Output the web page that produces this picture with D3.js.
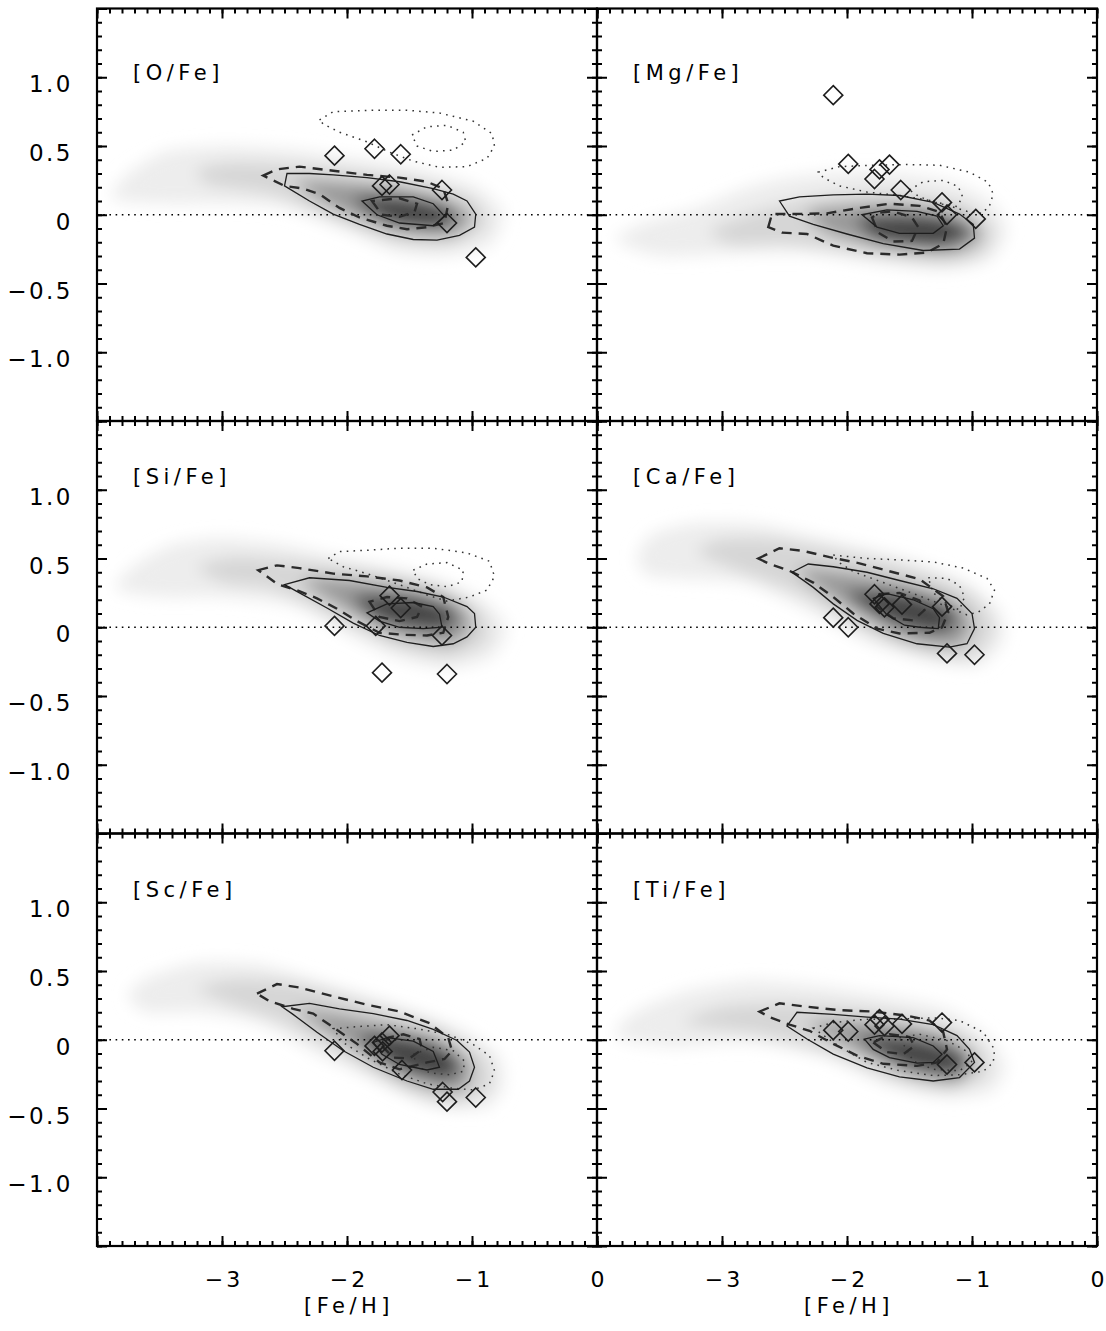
<!DOCTYPE html>
<html>
<head>
<meta charset="utf-8">
<script src="https://cdn.jsdelivr.net/npm/d3@7"></script>
<style>
  body { margin: 0; background: #fff; }
  text { font-family: "DejaVu Sans", sans-serif; fill: #000; }
</style>
</head>
<body>
<div id="chart"></div>
<script>
// axis values
let xTicks = [-3, -2, -1, 0];
let yTicks = [-1.0, -0.5, 0, 0.5, 1.0];
let yTickText = ['\u22121.0', '\u22120.5', '0', '0.5', '1.0'];
let xTickText = ['\u22123', '\u22122', '\u22121', '0'];
let panelNames = ['[O/Fe]', '[Mg/Fe]', '[Si/Fe]', '[Ca/Fe]', '[Sc/Fe]', '[Ti/Fe]'];

// ---- [O/Fe] ----
let oStars = [[-2.10, 0.43], [-1.78, 0.48], [-1.57, 0.44], [-1.72, 0.21], [-1.66, 0.22], [-1.24, 0.18], [-1.20, -0.06], [-0.97, -0.31]];
let oSolid = [
  [[-2.48, 0.30], [-2.50, 0.21], [-2.30, 0.10], [-2.11, 0.005], [-1.90, -0.07], [-1.68, -0.14], [-1.47, -0.18], [-1.28, -0.185], [-1.10, -0.15], [-0.98, -0.09], [-0.97, 0.005], [-1.04, 0.10], [-1.15, 0.15], [-1.31, 0.19], [-1.58, 0.24], [-1.84, 0.27], [-2.11, 0.29], [-2.30, 0.30]],
  [[-1.88, 0.10], [-1.76, 0.0], [-1.58, -0.06], [-1.31, -0.08], [-1.22, -0.01], [-1.31, 0.08], [-1.47, 0.13], [-1.74, 0.13]]
];
let oDashed = [
  [[-2.67, 0.285], [-2.56, 0.33], [-2.38, 0.35], [-2.11, 0.32], [-1.84, 0.29], [-1.58, 0.27], [-1.36, 0.24], [-1.23, 0.19], [-1.19, 0.08], [-1.22, -0.06], [-1.36, -0.09], [-1.52, -0.105], [-1.68, -0.08], [-1.90, -0.02], [-2.06, 0.05], [-2.22, 0.15], [-2.35, 0.19], [-2.50, 0.21]],
  [[-1.80, 0.10], [-1.72, 0.0], [-1.58, -0.015], [-1.46, 0.02], [-1.44, 0.08], [-1.58, 0.12]]
];
let oDotted = [
  [[-2.22, 0.69], [-2.11, 0.75], [-1.79, 0.76], [-1.52, 0.76], [-1.26, 0.74], [-0.99, 0.68], [-0.84, 0.59], [-0.82, 0.50], [-0.88, 0.41], [-1.04, 0.35], [-1.26, 0.345], [-1.47, 0.39], [-1.66, 0.455], [-1.84, 0.53], [-2.06, 0.60], [-2.19, 0.66]],
  [[-1.48, 0.58], [-1.36, 0.64], [-1.20, 0.65], [-1.07, 0.60], [-1.05, 0.53], [-1.15, 0.47], [-1.31, 0.46], [-1.44, 0.50]]
];
let oDensity = [
  [[-3.88, 0.12], [-3.75, 0.30], [-3.45, 0.46], [-3.0, 0.50], [-2.5, 0.48], [-2.0, 0.42], [-1.5, 0.35], [-1.0, 0.22], [-0.75, 0.02], [-0.85, -0.22], [-1.2, -0.30], [-1.6, -0.27], [-2.0, -0.12], [-2.5, 0.05], [-3.0, 0.08], [-3.5, 0.08]],
  [[-3.2, 0.33], [-2.9, 0.38], [-2.4, 0.36], [-1.9, 0.31], [-1.4, 0.24], [-1.0, 0.12], [-0.88, -0.08], [-1.2, -0.22], [-1.6, -0.2], [-2.1, -0.03], [-2.6, 0.15], [-3.1, 0.22]],
  [[-2.4, 0.24], [-1.8, 0.22], [-1.3, 0.14], [-1.0, 0.0], [-1.15, -0.15], [-1.6, -0.12], [-2.1, 0.05]],
  [[-1.95, 0.12], [-1.5, 0.12], [-1.15, 0.03], [-1.25, -0.09], [-1.65, -0.06]]
];

// ---- [Mg/Fe] ----
let mgStars = [[-2.11, 0.87], [-1.99, 0.37], [-1.78, 0.26], [-1.74, 0.33], [-1.66, 0.365], [-1.57, 0.18], [-1.24, 0.09], [-1.20, 0.0], [-0.97, -0.03]];
let mgSolid = [
  [[-2.54, 0.10], [-2.46, -0.01], [-2.27, -0.07], [-2.00, -0.14], [-1.71, -0.21], [-1.39, -0.26], [-1.10, -0.25], [-0.98, -0.17], [-0.99, -0.07], [-1.10, 0.005], [-1.31, 0.09], [-1.58, 0.14], [-1.84, 0.15], [-2.11, 0.145], [-2.38, 0.13]],
  [[-1.88, 0.0], [-1.76, -0.09], [-1.58, -0.135], [-1.31, -0.135], [-1.23, -0.08], [-1.28, -0.01], [-1.44, 0.025], [-1.68, 0.035]]
];
let mgDashed = [
  [[-2.63, -0.09], [-2.60, 0.005], [-2.43, 0.005], [-2.16, 0.01], [-1.90, 0.05], [-1.66, 0.08], [-1.42, 0.065], [-1.26, 0.02], [-1.20, -0.09], [-1.23, -0.21], [-1.36, -0.275], [-1.58, -0.29], [-1.84, -0.28], [-2.11, -0.225], [-2.32, -0.14], [-2.52, -0.13]],
  [[-1.80, -0.02], [-1.75, -0.13], [-1.63, -0.195], [-1.48, -0.19], [-1.43, -0.09], [-1.48, -0.02], [-1.63, 0.025], [-1.74, 0.015]]
];
let mgDotted = [
  [[-2.23, 0.31], [-2.06, 0.35], [-1.79, 0.36], [-1.52, 0.365], [-1.26, 0.36], [-1.02, 0.31], [-0.87, 0.235], [-0.83, 0.15], [-0.86, 0.065], [-0.92, 0.01], [-1.04, 0.025], [-1.31, 0.10], [-1.58, 0.14], [-1.84, 0.165], [-2.06, 0.21], [-2.19, 0.27]],
  [[-1.50, 0.18], [-1.39, 0.24], [-1.23, 0.25], [-1.11, 0.205], [-1.075, 0.13], [-1.12, 0.06], [-1.26, 0.08], [-1.42, 0.13]]
];
let mgDensity = [
  [[-3.85, -0.18], [-3.6, -0.05], [-3.2, 0.05], [-2.8, 0.2], [-2.4, 0.28], [-1.8, 0.32], [-1.2, 0.25], [-0.85, 0.1], [-0.72, -0.12], [-0.85, -0.32], [-1.2, -0.40], [-1.7, -0.36], [-2.3, -0.28], [-2.9, -0.28], [-3.5, -0.30]],
  [[-3.1, -0.12], [-2.8, 0.0], [-2.3, 0.12], [-1.7, 0.17], [-1.1, 0.09], [-0.83, -0.1], [-0.93, -0.3], [-1.3, -0.35], [-1.9, -0.28], [-2.5, -0.21], [-2.9, -0.22]],
  [[-2.3, 0.03], [-1.6, 0.08], [-1.1, 0.0], [-0.92, -0.15], [-1.15, -0.28], [-1.7, -0.24], [-2.15, -0.13]],
  [[-1.9, -0.02], [-1.3, -0.01], [-1.0, -0.12], [-1.25, -0.23], [-1.75, -0.18]]
];

// ---- [Si/Fe] ----
let siStars = [[-2.10, 0.01], [-1.77, 0.01], [-1.66, 0.23], [-1.57, 0.14], [-1.24, -0.06], [-1.72, -0.33], [-1.20, -0.34]];
let siSolid = [
  [[-2.50, 0.31], [-2.30, 0.36], [-1.98, 0.34], [-1.68, 0.29], [-1.44, 0.26], [-1.23, 0.22], [-1.04, 0.15], [-0.98, 0.10], [-0.97, 0.0], [-1.04, -0.07], [-1.15, -0.12], [-1.31, -0.14], [-1.52, -0.11], [-1.74, -0.06], [-1.95, 0.03], [-2.16, 0.14], [-2.38, 0.25]],
  [[-1.84, 0.105], [-1.68, 0.17], [-1.47, 0.18], [-1.31, 0.15], [-1.26, 0.095], [-1.24, 0.0], [-1.39, -0.01], [-1.58, 0.0], [-1.74, 0.045]]
];
let siDashed = [
  [[-2.71, 0.415], [-2.56, 0.45], [-2.38, 0.43], [-2.11, 0.39], [-1.84, 0.37], [-1.58, 0.34], [-1.36, 0.29], [-1.23, 0.22], [-1.19, 0.075], [-1.23, -0.04], [-1.36, -0.06], [-1.55, -0.055], [-1.74, -0.04], [-1.92, 0.045], [-2.08, 0.135], [-2.24, 0.21], [-2.40, 0.27], [-2.55, 0.31]],
  [[-1.82, 0.185], [-1.74, 0.075], [-1.58, 0.045], [-1.44, 0.075], [-1.40, 0.15], [-1.52, 0.21], [-1.68, 0.22]]
];
let siDotted = [
  [[-2.15, 0.50], [-2.06, 0.55], [-1.84, 0.56], [-1.58, 0.575], [-1.31, 0.575], [-1.04, 0.54], [-0.86, 0.48], [-0.82, 0.37], [-0.88, 0.27], [-1.02, 0.22], [-1.20, 0.19], [-1.36, 0.235], [-1.58, 0.31], [-1.84, 0.39], [-2.03, 0.44]],
  [[-1.47, 0.415], [-1.36, 0.46], [-1.20, 0.47], [-1.07, 0.415], [-1.08, 0.33], [-1.20, 0.295], [-1.34, 0.31], [-1.44, 0.355]]
];
let siDensity = [
  [[-3.85, 0.28], [-3.7, 0.45], [-3.4, 0.6], [-3.0, 0.65], [-2.5, 0.6], [-2.0, 0.5], [-1.4, 0.38], [-0.95, 0.22], [-0.72, 0.0], [-0.85, -0.22], [-1.2, -0.30], [-1.6, -0.22], [-2.0, -0.05], [-2.4, 0.15], [-3.0, 0.22], [-3.5, 0.22]],
  [[-3.2, 0.44], [-2.9, 0.51], [-2.4, 0.48], [-1.8, 0.41], [-1.3, 0.31], [-0.93, 0.12], [-0.88, -0.1], [-1.2, -0.22], [-1.6, -0.14], [-2.1, 0.07], [-2.6, 0.28], [-3.0, 0.33]],
  [[-2.35, 0.35], [-1.7, 0.32], [-1.2, 0.22], [-1.0, 0.05], [-1.15, -0.12], [-1.6, -0.06], [-2.05, 0.15]],
  [[-1.95, 0.22], [-1.45, 0.22], [-1.12, 0.1], [-1.25, -0.02], [-1.7, 0.04]]
];

// ---- [Ca/Fe] ----
let caStars = [[-2.11, 0.07], [-1.99, 0.0], [-1.78, 0.24], [-1.74, 0.17], [-1.70, 0.145], [-1.56, 0.165], [-1.24, 0.15], [-1.20, -0.19], [-0.98, -0.20]];
let caSolid = [
  [[-2.44, 0.40], [-2.31, 0.46], [-2.11, 0.44], [-1.84, 0.40], [-1.58, 0.34], [-1.31, 0.28], [-1.12, 0.21], [-1.00, 0.10], [-0.98, -0.01], [-1.04, -0.12], [-1.18, -0.145], [-1.44, -0.12], [-1.71, -0.045], [-1.92, 0.05], [-2.11, 0.17], [-2.27, 0.29]],
  [[-1.79, 0.21], [-1.68, 0.245], [-1.47, 0.20], [-1.31, 0.135], [-1.26, 0.07], [-1.27, -0.01], [-1.42, 0.0], [-1.54, 0.015], [-1.68, 0.09]]
];
let caDashed = [
  [[-2.71, 0.50], [-2.54, 0.575], [-2.35, 0.555], [-2.14, 0.51], [-1.90, 0.465], [-1.63, 0.40], [-1.42, 0.35], [-1.23, 0.225], [-1.19, 0.11], [-1.24, 0.0], [-1.34, -0.04], [-1.58, -0.045], [-1.76, -0.01], [-1.95, 0.10], [-2.11, 0.22], [-2.27, 0.325], [-2.46, 0.41], [-2.63, 0.465]],
  [[-1.74, 0.24], [-1.58, 0.25], [-1.42, 0.195], [-1.38, 0.125], [-1.47, 0.05], [-1.63, 0.065], [-1.76, 0.15]]
];
let caDotted = [
  [[-2.11, 0.525], [-1.84, 0.50], [-1.58, 0.49], [-1.31, 0.475], [-1.07, 0.43], [-0.88, 0.355], [-0.82, 0.27], [-0.86, 0.17], [-0.95, 0.11], [-1.04, 0.09], [-1.20, 0.15], [-1.44, 0.235], [-1.71, 0.325], [-1.95, 0.405], [-2.07, 0.475]],
  [[-1.35, 0.36], [-1.20, 0.355], [-1.10, 0.305], [-1.06, 0.22], [-1.10, 0.125], [-1.20, 0.17], [-1.31, 0.25]]
];
let caDensity = [
  [[-3.68, 0.52], [-3.55, 0.68], [-3.2, 0.76], [-2.7, 0.75], [-2.2, 0.65], [-1.6, 0.52], [-1.1, 0.35], [-0.78, 0.12], [-0.75, -0.1], [-0.95, -0.28], [-1.3, -0.25], [-1.8, -0.12], [-2.3, 0.12], [-2.8, 0.32], [-3.3, 0.35], [-3.6, 0.38]],
  [[-3.2, 0.55], [-3.0, 0.64], [-2.6, 0.64], [-2.1, 0.56], [-1.5, 0.43], [-1.0, 0.25], [-0.83, 0.0], [-1.0, -0.22], [-1.4, -0.19], [-1.9, -0.01], [-2.4, 0.25], [-2.9, 0.42]],
  [[-2.4, 0.42], [-1.8, 0.37], [-1.25, 0.24], [-1.0, 0.05], [-1.12, -0.14], [-1.55, -0.08], [-1.95, 0.12]],
  [[-2.0, 0.25], [-1.5, 0.24], [-1.12, 0.1], [-1.25, -0.04], [-1.65, 0.04]]
];

// ---- [Sc/Fe] ----
let scStars = [[-2.10, -0.08], [-1.78, -0.045], [-1.72, -0.02], [-1.66, 0.03], [-1.715, -0.085], [-1.56, -0.22], [-1.235, -0.38], [-1.20, -0.45], [-0.97, -0.42]];
let scSolid = [
  [[-2.52, 0.24], [-2.30, 0.265], [-2.06, 0.225], [-1.79, 0.19], [-1.52, 0.14], [-1.31, 0.075], [-1.12, -0.005], [-1.02, -0.09], [-0.98, -0.20], [-1.02, -0.30], [-1.11, -0.36], [-1.31, -0.36], [-1.52, -0.30], [-1.79, -0.20], [-2.03, -0.08], [-2.24, 0.055], [-2.44, 0.19]],
  [[-1.79, -0.02], [-1.68, 0.015], [-1.47, -0.01], [-1.31, -0.085], [-1.26, -0.20], [-1.36, -0.22], [-1.58, -0.18], [-1.72, -0.105]]
];
let scDashed = [
  [[-2.72, 0.335], [-2.56, 0.405], [-2.38, 0.38], [-2.11, 0.315], [-1.84, 0.255], [-1.58, 0.205], [-1.34, 0.12], [-1.19, 0.015], [-1.16, -0.08], [-1.22, -0.14], [-1.36, -0.165], [-1.58, -0.215], [-1.74, -0.165], [-1.92, -0.03], [-2.11, 0.09], [-2.27, 0.19], [-2.43, 0.225], [-2.62, 0.28]],
  [[-1.72, -0.045], [-1.63, -0.13], [-1.50, -0.135], [-1.40, -0.07], [-1.42, 0.005], [-1.55, 0.04], [-1.67, 0.015]]
];
let scDotted = [
  [[-2.11, 0.08], [-1.92, 0.095], [-1.68, 0.11], [-1.44, 0.08], [-1.18, 0.035], [-0.99, -0.035], [-0.86, -0.115], [-0.82, -0.225], [-0.86, -0.32], [-0.99, -0.365], [-1.18, -0.35], [-1.36, -0.32], [-1.58, -0.25], [-1.84, -0.13], [-2.03, -0.02]],
  [[-1.47, -0.105], [-1.31, -0.055], [-1.15, -0.08], [-1.06, -0.155], [-1.07, -0.23], [-1.18, -0.255], [-1.34, -0.24], [-1.44, -0.19]]
];
let scDensity = [
  [[-3.75, 0.32], [-3.6, 0.45], [-3.2, 0.56], [-2.7, 0.55], [-2.2, 0.42], [-1.6, 0.25], [-1.1, 0.08], [-0.78, -0.12], [-0.75, -0.35], [-0.9, -0.5], [-1.3, -0.48], [-1.7, -0.32], [-2.2, -0.12], [-2.7, 0.12], [-3.2, 0.2], [-3.6, 0.2]],
  [[-3.2, 0.37], [-2.9, 0.44], [-2.4, 0.41], [-1.8, 0.26], [-1.3, 0.11], [-0.9, -0.12], [-0.86, -0.36], [-1.15, -0.47], [-1.55, -0.37], [-2.0, -0.13], [-2.5, 0.12], [-2.9, 0.25]],
  [[-2.4, 0.22], [-1.8, 0.14], [-1.25, 0.0], [-1.0, -0.2], [-1.1, -0.38], [-1.5, -0.3], [-1.95, -0.06]],
  [[-1.9, 0.03], [-1.4, 0.0], [-1.1, -0.15], [-1.2, -0.29], [-1.6, -0.2]]
];

// ---- [Ti/Fe] ----
let tiStars = [[-2.11, 0.07], [-1.99, 0.06], [-1.78, 0.11], [-1.74, 0.15], [-1.70, 0.10], [-1.56, 0.115], [-1.24, 0.125], [-1.20, -0.18], [-0.98, -0.165]];
let tiSolid = [
  [[-2.48, 0.10], [-2.40, 0.20], [-2.11, 0.185], [-1.84, 0.165], [-1.58, 0.15], [-1.31, 0.11], [-1.12, 0.03], [-1.02, -0.07], [-0.98, -0.165], [-1.10, -0.275], [-1.31, -0.30], [-1.58, -0.27], [-1.84, -0.205], [-2.11, -0.105], [-2.32, 0.005]],
  [[-1.86, 0.005], [-1.74, 0.03], [-1.47, 0.015], [-1.31, -0.045], [-1.24, -0.105], [-1.31, -0.165], [-1.44, -0.17], [-1.66, -0.13], [-1.79, -0.07]]
];
let tiDashed = [
  [[-2.70, 0.205], [-2.54, 0.265], [-2.32, 0.24], [-2.06, 0.215], [-1.79, 0.205], [-1.52, 0.175], [-1.34, 0.14], [-1.23, 0.055], [-1.20, -0.07], [-1.28, -0.165], [-1.44, -0.19], [-1.71, -0.175], [-1.92, -0.115], [-2.11, -0.03], [-2.30, 0.065], [-2.46, 0.11], [-2.62, 0.165]],
  [[-1.79, -0.02], [-1.68, -0.09], [-1.55, -0.105], [-1.46, -0.045], [-1.50, 0.02], [-1.66, 0.04]]
];
let tiDotted = [
  [[-2.27, 0.085], [-2.11, 0.125], [-1.84, 0.15], [-1.58, 0.15], [-1.31, 0.16], [-1.10, 0.14], [-0.91, 0.055], [-0.82, -0.07], [-0.83, -0.165], [-0.91, -0.23], [-1.10, -0.255], [-1.31, -0.26], [-1.58, -0.225], [-1.84, -0.165], [-2.06, -0.05]],
  [[-1.58, 0.015], [-1.42, 0.04], [-1.20, -0.005], [-1.04, -0.085], [-1.00, -0.165], [-1.10, -0.225], [-1.31, -0.215], [-1.47, -0.155]]
];
let tiDensity = [
  [[-3.85, 0.02], [-3.7, 0.2], [-3.3, 0.35], [-2.8, 0.43], [-2.3, 0.40], [-1.7, 0.32], [-1.2, 0.22], [-0.85, 0.0], [-0.73, -0.2], [-0.85, -0.38], [-1.2, -0.42], [-1.7, -0.32], [-2.2, -0.12], [-2.8, -0.02], [-3.4, -0.05]],
  [[-3.3, 0.12], [-3.0, 0.24], [-2.5, 0.27], [-1.9, 0.23], [-1.3, 0.13], [-0.93, -0.05], [-0.88, -0.26], [-1.2, -0.37], [-1.6, -0.3], [-2.1, -0.11], [-2.7, 0.04]],
  [[-2.3, 0.12], [-1.7, 0.12], [-1.2, 0.03], [-0.98, -0.15], [-1.12, -0.31], [-1.5, -0.25], [-1.95, -0.07]],
  [[-1.9, 0.02], [-1.4, 0.0], [-1.05, -0.12], [-1.15, -0.25], [-1.55, -0.19]]
];

let panels = [
  {name: panelNames[0], stars: oStars, solid: oSolid, dashed: oDashed, dotted: oDotted, density: oDensity},
  {name: panelNames[1], stars: mgStars, solid: mgSolid, dashed: mgDashed, dotted: mgDotted, density: mgDensity},
  {name: panelNames[2], stars: siStars, solid: siSolid, dashed: siDashed, dotted: siDotted, density: siDensity},
  {name: panelNames[3], stars: caStars, solid: caSolid, dashed: caDashed, dotted: caDotted, density: caDensity},
  {name: panelNames[4], stars: scStars, solid: scSolid, dashed: scDashed, dotted: scDotted, density: scDensity},
  {name: panelNames[5], stars: tiStars, solid: tiSolid, dashed: tiDashed, dotted: tiDotted, density: tiDensity}
];

// layout
let margin = {top: 8.5, left: 97},
panelW = 500,
panelH = 412.5,
labelRowY = [1.03, 1.09, 1.09];

let grays = ['#ededed', '#d6d6d6', '#999999', '#444444'];

let svg = d3.select('#chart').
append('svg').
attr('width', 1106).
attr('height', 1331);

let defs = svg.append('defs');
defs.append('filter').
attr('id', 'soft').
attr('x', '-30%').attr('y', '-60%').
attr('width', '160%').attr('height', '220%').
append('feGaussianBlur').
attr('stdDeviation', 8);

let x = d3.scaleLinear().domain([-4, 0]).range([0, panelW]);
let y = d3.scaleLinear().domain([-1.5, 1.5]).range([panelH, 0]);

let line = d3.line().
x(d => x(d[0])).
y(d => y(d[1])).
curve(d3.curveLinearClosed);

let blob = d3.line().
x(d => x(d[0])).
y(d => y(d[1])).
curve(d3.curveCardinalClosed.tension(0.3));

let xMinor = d3.range(-40, 1).map(v => v / 10);
let yMinor = d3.range(-15, 16).map(v => v / 10);
let xMajor = d3.range(-4, 1);
let yMajor = d3.range(-3, 4).map(v => v / 2);

panels.forEach(function (p, i) {
  let col = i % 2, row = Math.floor(i / 2);
  let g = svg.append('g').
  attr('transform', 'translate(' + (margin.left + col * panelW) + ',' + (margin.top + row * panelH) + ')');

  defs.append('clipPath').
  attr('id', 'clip' + i).
  append('rect').
  attr('width', panelW).
  attr('height', panelH);

  let inner = g.append('g').attr('clip-path', 'url(#clip' + i + ')');

  // density shading
  inner.append('g').
  attr('filter', 'url(#soft)').
  selectAll('path').
  data(p.density).
  enter().
  append('path').
  attr('d', blob).
  attr('fill', (d, k) => grays[k]);

  // zero line
  inner.append('line').
  attr('x1', 0).attr('x2', panelW).
  attr('y1', y(0)).attr('y2', y(0)).
  attr('stroke', '#000').
  attr('stroke-width', 1.5).
  attr('stroke-dasharray', '1.6,4.6');

  inner.selectAll('path.dot').
  data(p.dotted).
  enter().
  append('path').
  attr('class', 'dot').
  attr('d', line).
  attr('fill', 'none').
  attr('stroke', '#333').
  attr('stroke-width', 1.5).
  attr('stroke-dasharray', '1.6,5.2');

  inner.selectAll('path.dash').
  data(p.dashed).
  enter().
  append('path').
  attr('class', 'dash').
  attr('d', line).
  attr('fill', 'none').
  attr('stroke', '#2b2b2b').
  attr('stroke-width', 2.4).
  attr('stroke-dasharray', '10,7');

  inner.selectAll('path.solid').
  data(p.solid).
  enter().
  append('path').
  attr('class', 'solid').
  attr('d', line).
  attr('fill', 'none').
  attr('stroke', '#1e1e1e').
  attr('stroke-width', 1.3);

  inner.selectAll('path.star').
  data(p.stars).
  enter().
  append('path').
  attr('class', 'star').
  attr('d', 'M0,-9.5L9.5,0L0,9.5L-9.5,0Z').
  attr('transform', d => 'translate(' + x(d[0]) + ',' + y(d[1]) + ')').
  attr('fill', 'none').
  attr('stroke', '#1e1e1e').
  attr('stroke-width', 1.6);

  // ticks on all four sides, pointing inward
  function ticks(axis, vals, len, tr) {
    let a = g.append('g').
    attr('transform', tr || null).
    call(axis.tickValues(vals).tickSize(-len).tickFormat(''));
    a.select('.domain').remove();
    a.selectAll('line').attr('stroke', '#000').attr('stroke-width', 2);
  }
  ticks(d3.axisLeft(y), yMinor, 5);
  ticks(d3.axisLeft(y), yMajor, 10);
  ticks(d3.axisRight(y), yMinor, 5, 'translate(' + panelW + ',0)');
  ticks(d3.axisRight(y), yMajor, 10, 'translate(' + panelW + ',0)');
  ticks(d3.axisTop(x), xMinor, 5);
  ticks(d3.axisTop(x), xMajor, 10);
  ticks(d3.axisBottom(x), xMinor, 5, 'translate(0,' + panelH + ')');
  ticks(d3.axisBottom(x), xMajor, 10, 'translate(0,' + panelH + ')');

  g.append('rect').
  attr('width', panelW).
  attr('height', panelH).
  attr('fill', 'none').
  attr('stroke', '#000').
  attr('stroke-width', 2.2);

  g.append('text').
  attr('x', 36).
  attr('y', y(labelRowY[row]) + 7).
  attr('font-size', 21).
  attr('letter-spacing', 4.5).
  text(p.name);

  if (col == 0) {
    g.selectAll('text.ylab').
    data(yTicks).
    enter().
    append('text').
    attr('class', 'ylab').
    attr('x', -24).
    attr('y', d => y(d) + 15).
    attr('text-anchor', 'end').
    attr('font-size', 23).
    attr('letter-spacing', 2.5).
    text((d, k) => yTickText[k]);
  }

  if (row == 2) {
    g.selectAll('text.xlab').
    data(xTicks).
    enter().
    append('text').
    attr('class', 'xlab').
    attr('x', d => x(d) + 2).
    attr('y', panelH + 41).
    attr('text-anchor', 'middle').
    attr('font-size', 22).
    attr('letter-spacing', 3).
    text((d, k) => xTickText[k]);

    g.append('text').
    attr('x', x(-2) + 2).
    attr('y', panelH + 67).
    attr('text-anchor', 'middle').
    attr('font-size', 21).
    attr('letter-spacing', 4.5).
    text('[Fe/H]');
  }
});
</script>
</body>
</html>
